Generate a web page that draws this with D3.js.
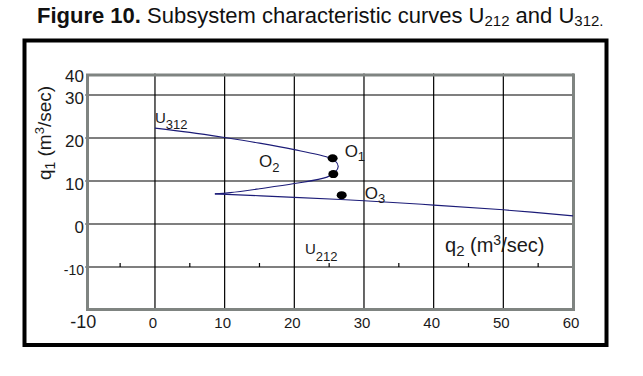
<!DOCTYPE html>
<html>
<head>
<meta charset="utf-8">
<script src="https://cdn.jsdelivr.net/npm/d3@7"></script>
<style>
  body { margin: 0; background: #fff; }
  text { font-family: "Liberation Sans", Arial, sans-serif; fill: #1a1a1a; }
</style>
</head>
<body>
<div id="chart"></div>
<script>
//  data (q2, q1) in m3/sec
var U312_CURVE = [
  [0, 22.3], [5, 21.3], [10, 20.1], [15, 18.8], [20, 17.3], [24.7, 15.6],
  [25.8, 14.8], [26.3, 13.4], [25.9, 12.1], [24.7, 10.9], [20, 9.4],
  [15, 8.2], [10.8, 7.3], [8.6, 7.0]
];
var U212_LINE = [[8.6, 7.0], [20, 6.2], [30, 5.4], [40, 4.4], [50, 3.3], [60, 1.9]];
var POINTS = [
  {name: "O", sub: "1", q2: 25.5, q1: 15.3},
  {name: "O", sub: "", q2: 25.6, q1: 11.6},
  {name: "O", sub: "3", q2: 26.8, q1: 6.7}
];
var X_GRID = [0, 10, 20, 30, 40, 50, 60];
var Y_GRID = [30, 20, 10, 0, -10];
var X_MINOR = [-5, 5, 15, 25, 35, 45, 55];
var X_TICK_LABELS = ["-10", "0", "10", "20", "30", "40", "50", "60"];
var X_TICK_VALUES = [-10, 0, 10, 20, 30, 40, 50, 60];
var Y_TICK_LABELS = ["40", "30", "20", "10", "0", "-10"];
var Y_TICK_VALUES = [35, 30, 20, 10, 0, -10];

//  main
function draw_fig10() {
  const w = 643, h = 376;
  const svg = d3.select("#chart").append("svg").attr("width", w).attr("height", h);

  const x = d3.scaleLinear().domain([-10, 60]).range([85.3, 573]);
  const y = d3.scaleLinear().domain([-20, 35]).range([310, 73.5]);

  // title
  const t = svg.append("text").attr("x", 37).attr("y", 23)
    .style("font-family", "'Liberation Sans Narrow', 'Arial Narrow', sans-serif")
    .style("font-size", "22px").style("fill", "#111");
  t.append("tspan").style("font-weight", "bold").text("Figure 10.");
  t.append("tspan").text(" Subsystem characteristic curves U");
  t.append("tspan").attr("dy", 3).style("font-size", "15px").text("212");
  t.append("tspan").attr("dy", -3).text(" and U");
  t.append("tspan").attr("dy", 3).style("font-size", "15px").text("312.");

  // outer frame
  svg.append("rect").attr("x", 24.5).attr("y", 40.5).attr("width", 582).attr("height", 304.5)
    .attr("fill", "none").attr("stroke", "#000").attr("stroke-width", 4);

  // grid
  svg.append("g").selectAll("line").data(X_GRID).enter().append("line")
    .attr("x1", d => x(d)).attr("x2", d => x(d))
    .attr("y1", y(35)).attr("y2", y(-20))
    .attr("stroke", "#000").attr("stroke-width", 1.2);
  svg.append("g").selectAll("line").data(Y_GRID).enter().append("line")
    .attr("x1", x(-10)).attr("x2", x(60))
    .attr("y1", d => y(d)).attr("y2", d => y(d))
    .attr("stroke", "#000").attr("stroke-width", 1.2);

  // inner axis at q1 = -10
  svg.append("g").selectAll("line").data(X_MINOR).enter().append("line")
    .attr("x1", d => x(d)).attr("x2", d => x(d))
    .attr("y1", y(-10) - 4).attr("y2", y(-10))
    .attr("stroke", "#000").attr("stroke-width", 1.2);
  svg.append("g").selectAll("line").data([-10, 60]).enter().append("line")
    .attr("x1", d => x(d) + (d < 0 ? 2 : 0)).attr("x2", d => x(d) + (d < 0 ? 2 : 0))
    .attr("y1", y(-10) - 5).attr("y2", y(-10) + 6)
    .attr("stroke", "#000").attr("stroke-width", 1.2);
  svg.append("line").attr("x1", x(0) - 6).attr("x2", x(0)).attr("y1", y(-20) - 1).attr("y2", y(-20) - 1)
    .attr("stroke", "#000").attr("stroke-width", 1.2);

  // plot frame
  svg.append("rect").attr("x", 87.5).attr("y", 75).attr("width", 486).attr("height", 234.5)
    .attr("fill", "none").attr("stroke", "#7f8481").attr("stroke-width", 3);

  // curves
  const line = d3.line().x(d => x(d[0])).y(d => y(d[1])).curve(d3.curveCatmullRom);
  svg.append("path").datum(U312_CURVE).attr("d", line)
    .attr("fill", "none").attr("stroke", "#1c1c78").attr("stroke-width", 1.1);
  svg.append("path").datum(U212_LINE).attr("d", line)
    .attr("fill", "none").attr("stroke", "#1c1c78").attr("stroke-width", 1.1);

  // points
  svg.append("g").selectAll("ellipse").data(POINTS).enter().append("ellipse")
    .attr("cx", d => x(d.q2)).attr("cy", d => y(d.q1))
    .attr("rx", 5).attr("ry", 4).attr("fill", "#000");

  // labels with subscripts
  function sublabel(px, py, base, sub, size, subsize, dy) {
    const g = svg.append("text").attr("x", px).attr("y", py).style("font-size", size + "px");
    g.append("tspan").text(base);
    g.append("tspan").attr("dy", dy).style("font-size", subsize + "px").text(sub);
    return g;
  }
  sublabel(x(POINTS[0].q2) + 12, y(POINTS[0].q1) - 1, "O", "1", 17, 13, 4);
  sublabel(x(POINTS[2].q2) + 23, y(POINTS[2].q1) + 4, "O", "3", 17, 13, 4);
  sublabel(259, 167, "O", "2", 17, 13, 5);
  sublabel(155, 123, "U", "312", 15, 13, 6);
  sublabel(305, 254, "U", "212", 15, 13, 7);

  const ql = svg.append("text").attr("x", 445).attr("y", 252).style("font-size", "20px");
  ql.append("tspan").text("q");
  ql.append("tspan").attr("dy", 4).style("font-size", "15px").text("2");
  ql.append("tspan").attr("dy", -4).text(" (m");
  ql.append("tspan").attr("dy", -7).style("font-size", "14px").text("3");
  ql.append("tspan").attr("dy", 7).text("/sec)");

  const yl = svg.append("text").attr("transform", "translate(51,133) rotate(-90)")
    .attr("text-anchor", "middle").style("font-size", "19px");
  yl.append("tspan").text("q");
  yl.append("tspan").attr("dy", 4).style("font-size", "14px").text("1");
  yl.append("tspan").attr("dy", -4).text(" (m");
  yl.append("tspan").attr("dy", -7).style("font-size", "13px").text("3");
  yl.append("tspan").attr("dy", 7).text("/sec)");

  // tick labels
  svg.append("g").selectAll("text").data(X_TICK_VALUES).enter().append("text")
    .attr("x", d => x(d) - 2).attr("y", 328)
    .attr("text-anchor", "middle")
    .style("font-size", d => d < 0 ? "18px" : "15px")
    .text((d, i) => X_TICK_LABELS[i]);
  svg.append("g").selectAll("text").data(Y_TICK_VALUES).enter().append("text")
    .attr("x", 84).attr("y", d => y(d) + 3)
    .attr("text-anchor", "end").attr("dominant-baseline", "central")
    .style("font-size", d => d < 0 ? "14px" : "17px")
    .text((d, i) => Y_TICK_LABELS[i]);
}

draw_fig10();
</script>
</body>
</html>
